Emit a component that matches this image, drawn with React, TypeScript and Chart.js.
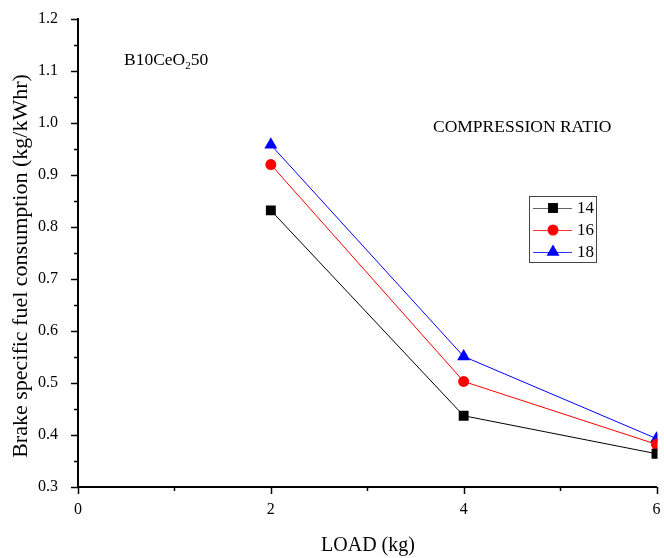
import React, { useEffect, useRef } from "react";
import { Chart, registerables } from "chart.js";

Chart.register(...registerables);

const loads = [2, 4, 6];
const cr14 = [0.832, 0.437, 0.364];
const cr16 = [0.92, 0.503, 0.382];
const cr18 = [0.958, 0.551, 0.393];
const seriesLabels = ["14", "16", "18"];
const seriesColors = ["#000000", "#ff0000", "#0000ff"];
const seriesMarkers = ["rect", "circle", "triangle"];
const seriesRadius = [7, 5.5, 7.5];

const FONT = "'Liberation Serif', 'Times New Roman', serif";

function drawMarker(ctx: CanvasRenderingContext2D, style: string, x: number, y: number, r: number) {
  ctx.beginPath();
  if (style === "rect") {
    const s = Math.SQRT1_2 * r;
    ctx.rect(x - s, y - s, 2 * s, 2 * s);
  } else if (style === "circle") {
    ctx.arc(x, y, r, 0, Math.PI * 2);
  } else {
    const off = r * Math.cos(Math.PI / 6);
    ctx.moveTo(x, y - r);
    ctx.lineTo(x - off, y + r / 2);
    ctx.lineTo(x + off, y + r / 2);
    ctx.closePath();
  }
  ctx.fill();
}

const decorPlugin = {
  id: "decor",
  afterDraw(chart: any) {
    const ctx = chart.ctx;
    const { left, bottom } = chart.chartArea;
    const xs = chart.scales.x;
    const ys = chart.scales.y;
    ctx.save();
    ctx.strokeStyle = "#000";
    ctx.lineWidth = 1.5;
    ys.ticks.forEach((t: any) => {
      const major = Math.round(t.value * 100) % 10 === 0;
      const p = Math.round(ys.getPixelForValue(t.value)) + 0.5;
      ctx.beginPath();
      ctx.moveTo(left, p);
      ctx.lineTo(left - (major ? 7 : 4), p);
      ctx.stroke();
    });
    xs.ticks.forEach((t: any) => {
      const major = Math.round(t.value) % 2 === 0;
      const p = Math.round(xs.getPixelForValue(t.value)) + 0.5;
      ctx.beginPath();
      ctx.moveTo(p, bottom);
      ctx.lineTo(p, bottom + (major ? 7 : 4));
      ctx.stroke();
    });

    ctx.fillStyle = "#000";
    ctx.font = `22px ${FONT}`;
    ctx.textAlign = "center";
    ctx.textBaseline = "middle";
    ctx.save();
    ctx.translate(21, 266);
    ctx.rotate(-Math.PI / 2);
    ctx.fillText("Brake specific fuel consumption (kg/kWhr)", 0, 0);
    ctx.restore();
    ctx.font = `20px ${FONT}`;
    ctx.fillText("LOAD (kg)", 368, 546);

    ctx.textAlign = "left";
    ctx.font = `17.5px ${FONT}`;
    ctx.fillText("COMPRESSION RATIO", 433, 127);
    let x = 124;
    ctx.fillText("B10CeO", x, 60);
    x += ctx.measureText("B10CeO").width;
    ctx.font = `11px ${FONT}`;
    ctx.fillText("2", x, 66);
    x += ctx.measureText("2").width;
    ctx.font = `17.5px ${FONT}`;
    ctx.fillText("50", x, 60);

    ctx.strokeStyle = "#444";
    ctx.lineWidth = 1;
    ctx.strokeRect(529.5, 196.5, 67, 66);
    const ys2 = [208, 230, 252];
    seriesLabels.forEach((lab, i) => {
      const y = ys2[i];
      ctx.strokeStyle = seriesColors[i];
      ctx.globalAlpha = i === 0 ? 0.6 : 0.8;
      ctx.lineWidth = 1;
      ctx.beginPath();
      ctx.moveTo(533, y + 0.5);
      ctx.lineTo(572, y + 0.5);
      ctx.stroke();
      ctx.globalAlpha = 1;
      ctx.fillStyle = seriesColors[i];
      drawMarker(ctx, seriesMarkers[i], 553, y, seriesRadius[i]);
      ctx.fillStyle = "#000";
      ctx.font = `17px ${FONT}`;
      ctx.textBaseline = "middle";
      ctx.fillText(lab, 577, y + 1);
    });
    ctx.restore();
  },
};

export default function App() {
  const ref = useRef<HTMLCanvasElement>(null);
  useEffect(() => {
    document.body.style.margin = "0";
    const series = [cr14, cr16, cr18];
    const chart = new Chart(ref.current!, {
      type: "line",
      data: {
        datasets: series.map((vals, i) => ({
          label: seriesLabels[i],
          data: loads.map((l, j) => ({ x: l, y: vals[j] })),
          borderColor: seriesColors[i],
          backgroundColor: seriesColors[i],
          borderWidth: 1,
          pointStyle: seriesMarkers[i] as any,
          pointRadius: seriesRadius[i],
          pointBorderWidth: 0,
          clip: { left: false, top: false, right: 1, bottom: false } as any,
        })),
      },
      options: {
        animation: false,
        responsive: false,
        layout: { padding: { top: 19, right: 7, left: 0, bottom: 0 } },
        plugins: { legend: { display: false }, tooltip: { enabled: false } },
        scales: {
          x: {
            type: "linear",
            min: 0,
            max: 6,
            ticks: {
              stepSize: 1,
              padding: 6,
              color: "#000",
              font: { family: FONT, size: 16 },
              maxRotation: 0,
              callback: (v: any) => (Math.round(v) % 2 === 0 ? String(v) : ""),
            },
            grid: { display: true, drawOnChartArea: false, drawTicks: true, tickLength: 7, tickColor: "transparent" },
            border: { display: true, color: "#000", width: 2 },
            afterFit: (s: any) => {
              s.height = 71;
              s.paddingLeft = 0;
              s.paddingRight = 0;
            },
          },
          y: {
            min: 0.3,
            max: 1.2,
            ticks: {
              stepSize: 0.05,
              padding: 13,
              color: "#000",
              font: { family: FONT, size: 16 },
              callback: (v: any) => (Math.round(v * 100) % 10 === 0 ? Number(v).toFixed(1) : ""),
            },
            grid: { display: true, drawOnChartArea: false, drawTicks: true, tickLength: 7, tickColor: "transparent" },
            border: { display: true, color: "#000", width: 2 },
            afterFit: (s: any) => {
              s.width = 78;
              s.paddingTop = 0;
              s.paddingBottom = 0;
            },
          },
        },
      },
      plugins: [decorPlugin],
    });
    return () => chart.destroy();
  }, []);
  return (
    <div style={{ width: 664, height: 558 }}>
      <canvas ref={ref} width={664} height={558} style={{ display: "block" }} />
    </div>
  );
}
